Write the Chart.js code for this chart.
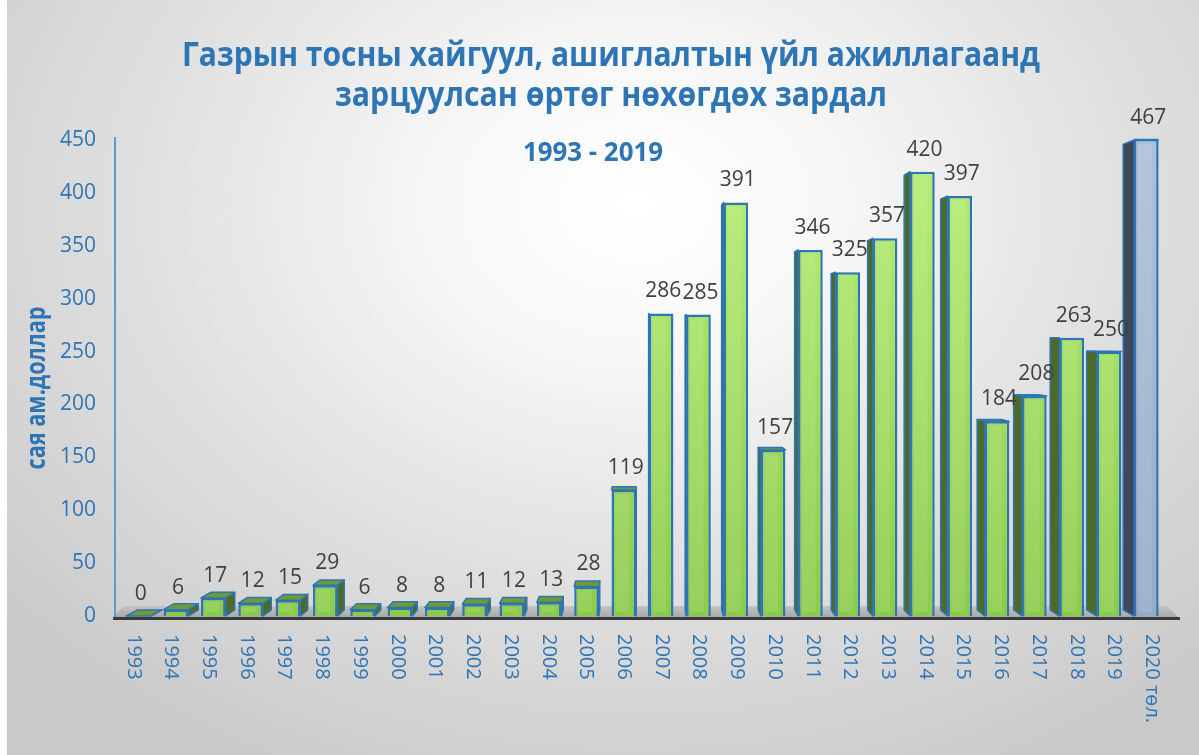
<!DOCTYPE html>
<html><head><meta charset="utf-8">
<script src="https://cdn.jsdelivr.net/npm/chart.js@4.4.1/dist/chart.umd.min.js"></script>
<style>
html,body{margin:0;padding:0;background:#fff;}
#wrap{position:relative;width:1199px;height:755px;
background:linear-gradient(#fff,#fff) 0 0/7px 100% no-repeat,
radial-gradient(ellipse 70% 85% at 53% 27%, #ffffff 0%, #f8f8f8 22%, #e2e2e2 55%, #c9c9c9 100%);}
canvas{display:block}
</style></head><body>
<div id="wrap"><canvas id="c" width="1199" height="755"></canvas></div>
<script>
const categories = ['1993','1994','1995','1996','1997','1998','1999','2000','2001','2002','2003','2004','2005','2006','2007','2008','2009','2010','2011','2012','2013','2014','2015','2016','2017','2018','2019','2020 төл.'];
const values = [0,6,17,12,15,29,6,8,8,11,12,13,28,119,286,285,391,157,346,325,357,420,397,184,208,263,250,467];
const yTicks = [0,50,100,150,200,250,300,350,400,450];
const titleLines = ['Газрын тосны хайгуул, ашиглалтын үйл ажиллагаанд','зарцуулсан өртөг нөхөгдөх зардал'];
const subtitleText = '1993 - 2019';
const yAxisTitle = 'сая ам.доллар';
const forecastIndex = categories.length - 1;

const BLUE = '#2e75b6';
const VP = {x: 640, y: 340};
const DEPTH = 0.022;

function fitText(ctx, text, cx, baseY, font, targetW, rot) {
  ctx.save();
  ctx.font = font;
  const w = ctx.measureText(text).width;
  const sx = targetW / w;
  ctx.translate(cx, baseY);
  if (rot) ctx.rotate(rot);
  ctx.scale(sx, 1);
  ctx.textAlign = 'center';
  ctx.textBaseline = 'alphabetic';
  ctx.fillText(text, 0, 0);
  ctx.restore();
}

function barBox(el, chart) {
  const ca = chart.chartArea;
  const w = el.width;
  return {L: el.x - w/2, R: el.x + w/2, T: Math.max(el.y, ca.top), B: el.base};
}
function back(p, axis) { return p + ((axis === 'x' ? VP.x : VP.y) - p) * DEPTH; }

const deco = {
  id: 'deco',
  beforeDatasetsDraw(chart) {
    const ctx = chart.ctx;
    // floor
    const fL = 113, fR = 1178, fy = 617;
    const bk = 0.04;
    const byy = fy + (VP.y - fy) * bk;
    ctx.save();
    const fg = ctx.createLinearGradient(0, byy, 0, fy);
    fg.addColorStop(0, '#c4c4c4');
    fg.addColorStop(1, '#a9a9a9');
    ctx.fillStyle = fg;
    ctx.beginPath();
    ctx.moveTo(fL, fy);
    ctx.lineTo(fR, fy);
    ctx.lineTo(fR + (VP.x - fR) * bk * 0.5, byy);
    ctx.lineTo(fL + (VP.x - fL) * bk * 0.5, byy);
    ctx.closePath();
    ctx.fill();
    ctx.fillStyle = '#3a3a3a';
    ctx.fillRect(fL, fy, fR - fL + 2, 3);
    // y axis line
    ctx.strokeStyle = '#5b9bd5';
    ctx.lineWidth = 2;
    ctx.beginPath();
    ctx.moveTo(115, chart.chartArea.top - 3);
    ctx.lineTo(115, fy);
    ctx.stroke();
    // 3D side / top faces
    const meta = chart.getDatasetMeta(0);
    meta.data.forEach((el, i) => {
      const b = barBox(el, chart);
      const L2 = back(b.L,'x'), R2 = back(b.R,'x'), T2 = back(b.T,'y'), B2 = back(b.B,'y');
      const fc = i === forecastIndex;
      ctx.strokeStyle = BLUE;
      ctx.lineWidth = 1.5;
      ctx.lineJoin = 'round';
      if (VP.x > b.R) {
        ctx.fillStyle = fc ? '#3d4859' : '#4d6b27';
        ctx.beginPath();
        ctx.moveTo(b.R, b.T); ctx.lineTo(R2, T2); ctx.lineTo(R2, B2); ctx.lineTo(b.R, b.B);
        ctx.closePath(); ctx.fill(); ctx.stroke();
      } else if (VP.x < b.L) {
        ctx.fillStyle = fc ? '#3d4859' : '#4d6b27';
        ctx.beginPath();
        ctx.moveTo(b.L, b.T); ctx.lineTo(L2, T2); ctx.lineTo(L2, B2); ctx.lineTo(b.L, b.B);
        ctx.closePath(); ctx.fill(); ctx.stroke();
      }
      if (b.T > VP.y) {
        ctx.fillStyle = fc ? '#7f95b3' : '#6f9a34';
        ctx.beginPath();
        ctx.moveTo(b.L, b.T); ctx.lineTo(b.R, b.T); ctx.lineTo(R2, T2); ctx.lineTo(L2, T2);
        ctx.closePath(); ctx.fill(); ctx.stroke();
      }
    });
    ctx.restore();
  },
  afterDatasetsDraw(chart) {
    const ctx = chart.ctx;
    const ca = chart.chartArea;
    const meta = chart.getDatasetMeta(0);
    ctx.save();
    meta.data.forEach((el, i) => {
      const b = barBox(el, chart);
      // inner highlight band
      if (b.B - b.T > 8) {
        ctx.fillStyle = 'rgba(255,255,255,0.10)';
        ctx.fillRect(b.L + 4, b.T + 4, (b.R - b.L) * 0.55, b.B - b.T - 8);
      }
      if (el.y < ca.top) {
        ctx.strokeStyle = BLUE; ctx.lineWidth = 2.5;
        ctx.beginPath(); ctx.moveTo(b.L, ca.top); ctx.lineTo(b.R, ca.top); ctx.stroke();
      }
      ctx.fillStyle = '#404040';
      ctx.font = '21px "Open Sans"';
      ctx.textAlign = 'center';
      ctx.textBaseline = 'alphabetic';
      ctx.fillText(String(values[i]), el.x + 2, b.T - 16);
    });
    ctx.restore();
  },
  afterDraw(chart) {
    const ctx = chart.ctx;
    const xs = chart.scales.x;
    ctx.save();
    ctx.fillStyle = BLUE;
    fitText(ctx, titleLines[0], 611, 66, 'bold 34px "Open Sans"', 858);
    fitText(ctx, titleLines[1], 611, 106, 'bold 34px "Open Sans"', 552);
    fitText(ctx, subtitleText, 593, 161, 'bold 27px "Open Sans"', 140);
    fitText(ctx, yAxisTitle, 45, 388, 'bold 26px "Open Sans"', 163, -Math.PI/2);
    // x labels rotated clockwise
    ctx.font = '20px "Open Sans"';
    ctx.fillStyle = BLUE;
    categories.forEach((lab, i) => {
      const c = xs.getPixelForValue(i);
      const x = c + (c - VP.x) * 0.0107;
      ctx.save();
      ctx.translate(x, 634);
      ctx.rotate(Math.PI / 2);
      ctx.textAlign = 'left';
      ctx.textBaseline = 'middle';
      ctx.fillText(lab, 0, 0);
      ctx.restore();
    });
    ctx.restore();
  }
};

function frontColor(context) {
  const chart = context.chart;
  const ca = chart.chartArea;
  const fc = context.dataIndex === forecastIndex;
  if (!ca) return fc ? '#a4b8d3' : '#9edb5a';
  const g = chart.ctx.createLinearGradient(0, ca.top, 0, ca.bottom);
  if (fc) { g.addColorStop(0, '#adc0d9'); g.addColorStop(1, '#95abc8'); }
  else { g.addColorStop(0, '#b6f074'); g.addColorStop(1, '#8ccb4a'); }
  return g;
}

new Chart(document.getElementById('c'), {
  type: 'bar',
  data: {
    labels: categories,
    datasets: [{
      data: values,
      backgroundColor: frontColor,
      borderColor: BLUE,
      borderWidth: 2.5,
      barPercentage: 0.66,
      categoryPercentage: 1
    }]
  },
  options: {
    responsive: false,
    animation: false,
    layout: {padding: {top: 140, bottom: 139, left: 0, right: 34}},
    plugins: {legend: {display: false}, tooltip: {enabled: false}, title: {display: false}},
    scales: {
      x: {display: false},
      y: {
        min: 0, max: 450,
        afterBuildTicks: s => { s.ticks = yTicks.map(v => ({value: v})); },
        afterFit: s => { s.width = 120; },
        grid: {display: false, drawTicks: false},
        border: {display: false},
        ticks: {color: BLUE, font: {family: 'Open Sans', size: 21}, padding: 24}
      }
    }
  },
  plugins: [deco]
});
</script>
</body></html>
